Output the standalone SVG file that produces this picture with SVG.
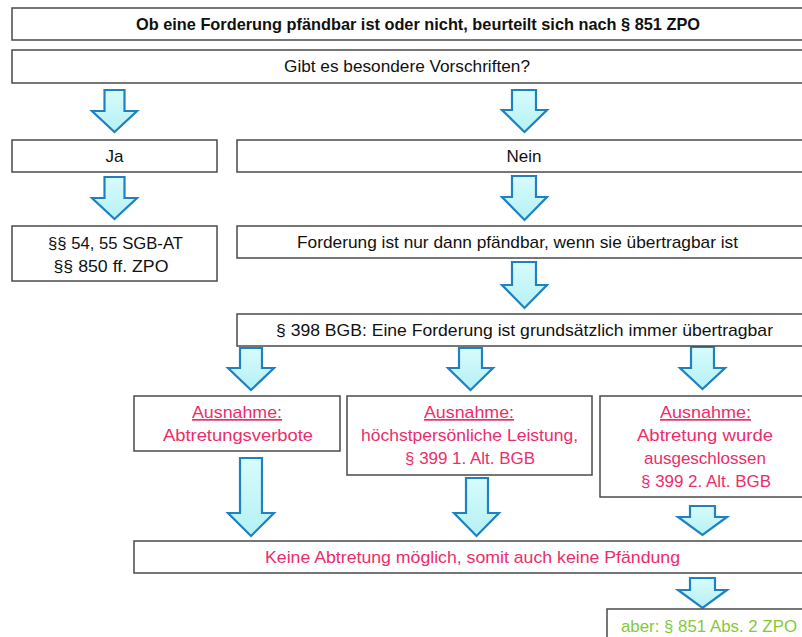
<svg xmlns="http://www.w3.org/2000/svg" width="802" height="637" viewBox="0 0 802 637">
<style>
.box{fill:#fff;stroke:#4a4a4a;stroke-width:1.5}
.arr{fill:url(#g);stroke:#1f80c2;stroke-width:2.2;stroke-linejoin:miter}
text{font-family:"Liberation Sans",Arial,sans-serif;font-size:17px;text-anchor:middle;fill:#111}
.b{font-weight:bold}
.r{fill:#ec2d6b}
.gr{fill:#86c83a}
.u{text-decoration:underline}
</style>
<defs>
<linearGradient id="g" x1="0" y1="0" x2="0" y2="1">
<stop offset="0" stop-color="#d8fbfc"/>
<stop offset="1" stop-color="#b4f1f4"/>
</linearGradient>
</defs>
<rect width="802" height="637" fill="#fff"/>
<g id="connectors">
<path class="arr" d="M104.5,90 H124.5 V111 H137 L114.5,132 L92,111 H104.5 Z"/>
<path class="arr" d="M512,90 H536 V110 H547 L524.5,132 L502,110 H512 Z"/>
<path class="arr" d="M104.5,177 H124.5 V198 H137 L114.5,219 L92,198 H104.5 Z"/>
<path class="arr" d="M512,176 H536 V197 H547 L524.5,220 L502,197 H512 Z"/>
<path class="arr" d="M512,262 H536 V285 H547 L524.5,308 L502,285 H512 Z"/>
<path class="arr" d="M240,348 H262 V368 H274 L251,390 L228,368 H240 Z"/>
<path class="arr" d="M459,348 H482 V368 H493 L470.5,390 L448,368 H459 Z"/>
<path class="arr" d="M691,347 H714 V368 H725 L702.5,389 L680,368 H691 Z"/>
<path class="arr" d="M240,458 H262 V513 H274 L251,536 L228,513 H240 Z"/>
<path class="arr" d="M466,478 H488 V513 H499 L476.5,536 L454,513 H466 Z"/>
<path class="arr" d="M690,506 H715 V517 H727 L702.5,535 L678,517 H690 Z"/>
<path class="arr" d="M690,578 H715 V590 H727 L702.5,608 L678,590 H690 Z"/>
</g>
<g id="n-top"><rect class="box" x="12" y="8" width="800" height="32"/><text class="b" x="418" y="30" textLength="564" lengthAdjust="spacingAndGlyphs">Ob eine Forderung pfändbar ist oder nicht, beurteilt sich nach § 851 ZPO</text></g>
<g id="n-gibt"><rect class="box" x="12" y="50" width="800" height="33"/><text x="407" y="72" textLength="246" lengthAdjust="spacingAndGlyphs">Gibt es besondere Vorschriften?</text></g>
<g id="n-ja"><rect class="box" x="12" y="140" width="205" height="32"/><text x="114.5" y="162">Ja</text></g>
<g id="n-nein"><rect class="box" x="237" y="140" width="575" height="32"/><text x="524" y="162">Nein</text></g>
<g id="n-sgb"><rect class="box" x="12" y="226" width="205" height="55"/><text x="115.5" y="249" textLength="135" lengthAdjust="spacingAndGlyphs">§§ 54, 55 SGB-AT</text><text x="111" y="272" textLength="115" lengthAdjust="spacingAndGlyphs">§§ 850 ff. ZPO</text></g>
<g id="n-ford"><rect class="box" x="237" y="226" width="575" height="32"/><text x="517.5" y="248" textLength="441" lengthAdjust="spacingAndGlyphs">Forderung ist nur dann pfändbar, wenn sie übertragbar ist</text></g>
<g id="n-398"><rect class="box" x="237" y="314" width="575" height="32"/><text x="524.5" y="336" textLength="497" lengthAdjust="spacingAndGlyphs">§ 398 BGB: Eine Forderung ist grundsätzlich immer übertragbar</text></g>
<g id="n-aus1"><rect class="box" x="134" y="396" width="206" height="55"/><text class="r u" x="237" y="418" textLength="90" lengthAdjust="spacingAndGlyphs">Ausnahme:</text><text class="r" x="238" y="441" textLength="150" lengthAdjust="spacingAndGlyphs">Abtretungsverbote</text></g>
<g id="n-aus2"><rect class="box" x="347" y="396" width="245" height="79"/><text class="r u" x="469" y="418" textLength="90" lengthAdjust="spacingAndGlyphs">Ausnahme:</text><text class="r" x="469.5" y="441" textLength="217" lengthAdjust="spacingAndGlyphs">höchstpersönliche Leistung,</text><text class="r" x="470" y="464" textLength="130" lengthAdjust="spacingAndGlyphs">§ 399 1. Alt. BGB</text></g>
<g id="n-aus3"><rect class="box" x="600" y="396" width="212" height="101"/><text class="r u" x="705.5" y="418" textLength="91" lengthAdjust="spacingAndGlyphs">Ausnahme:</text><text class="r" x="705" y="441" textLength="136" lengthAdjust="spacingAndGlyphs">Abtretung wurde</text><text class="r" x="705" y="464" textLength="122" lengthAdjust="spacingAndGlyphs">ausgeschlossen</text><text class="r" x="706" y="487" textLength="130" lengthAdjust="spacingAndGlyphs">§ 399 2. Alt. BGB</text></g>
<g id="n-keine"><rect class="box" x="134" y="541" width="678" height="32"/><text class="r" x="472.5" y="563" textLength="415" lengthAdjust="spacingAndGlyphs">Keine Abtretung möglich, somit auch keine Pfändung</text></g>
<g id="n-aber"><rect class="box" x="607" y="609" width="205" height="40"/><text class="gr" x="709" y="632" textLength="176" lengthAdjust="spacingAndGlyphs">aber: § 851 Abs. 2 ZPO</text></g>
</svg>
